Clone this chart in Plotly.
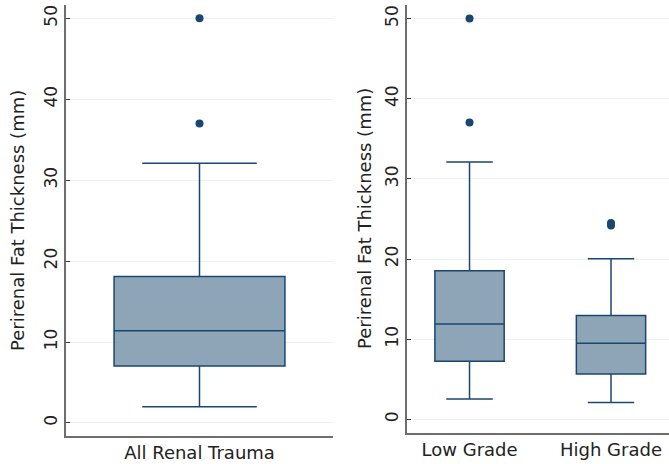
import plotly.graph_objects as go

# Left panel: all renal trauma
all_label = ["All Renal Trauma"]
all_q1 = [7.05]
all_median = [11.4]
all_q3 = [18.1]
all_lower = [2.0]
all_upper = [32.1]
all_outliers = [37.0, 50.0]

# Right panel: by grade
grade_labels = ["Low Grade", "High Grade"]
grade_q1 = [7.25, 5.65]
grade_median = [11.9, 9.5]
grade_q3 = [18.55, 12.95]
grade_lower = [2.55, 2.1]
grade_upper = [32.1, 20.05]
low_outliers = [37.05, 50.0]
high_outliers = [24.2, 24.5]

y_ticks = [0, 10, 20, 30, 40, 50]
y_title = "Perirenal Fat Thickness (mm)"

FILL = "#8ea4b7"
LINE = "#1a476f"
GRID = "#eaf2f3"
AXIS = "#6e6e6e"
FONT = "DejaVu Sans"
TXT = "#222"

W, H = 669, 464
fig = go.Figure()

fig.add_trace(go.Box(
    x=[0], q1=all_q1, median=all_median, q3=all_q3,
    lowerfence=all_lower, upperfence=all_upper,
    width=0.64, whiskerwidth=0.67, boxpoints=False,
    fillcolor=FILL, line=dict(color=LINE, width=1.5),
    xaxis="x", yaxis="y", showlegend=False, hoverinfo="skip"))
fig.add_trace(go.Scatter(
    x=[0] * len(all_outliers), y=all_outliers, mode="markers",
    marker=dict(color=LINE, size=8), xaxis="x", yaxis="y", showlegend=False))

grade_pos = list(range(len(grade_labels)))
fig.add_trace(go.Box(
    x=grade_pos, q1=grade_q1, median=grade_median, q3=grade_q3,
    lowerfence=grade_lower, upperfence=grade_upper,
    width=0.49, whiskerwidth=0.67, boxpoints=False,
    fillcolor=FILL, line=dict(color=LINE, width=1.5),
    xaxis="x2", yaxis="y2", showlegend=False, hoverinfo="skip"))
fig.add_trace(go.Scatter(
    x=[grade_pos[0]] * len(low_outliers) + [grade_pos[1]] * len(high_outliers),
    y=low_outliers + high_outliers, mode="markers",
    marker=dict(color=LINE, size=8), xaxis="x2", yaxis="y2", showlegend=False))

yax = dict(
    tickvals=y_ticks, ticktext=[str(t) for t in y_ticks], tickangle=-90,
    showgrid=True, gridcolor=GRID, gridwidth=1, zeroline=False,
    showline=True, linecolor=AXIS, linewidth=1.5,
    ticks="inside", ticklen=4, tickcolor="#333", tickwidth=1,
    tickfont=dict(family=FONT, size=17, color=TXT),
)
xax = dict(
    showgrid=False, zeroline=False, showline=True, linecolor=AXIS, linewidth=1.5,
    ticks="", tickfont=dict(family=FONT, size=18, color=TXT),
)

fig.update_layout(
    width=W, height=H,
    margin=dict(l=0, r=0, t=0, b=0),
    paper_bgcolor="white", plot_bgcolor="white",
    xaxis=dict(xax, domain=[66 / W, 333 / W], range=[-0.5, 0.5],
               tickvals=[0], ticktext=all_label, anchor="y"),
    yaxis=dict(yax, domain=[1 - 436 / H, 1 - 5 / H], range=[-1.61, 51.65], anchor="x"),
    xaxis2=dict(xax, domain=[407 / W, 1.0], range=[-0.442, 1.41],
                tickvals=grade_pos, ticktext=grade_labels, anchor="y2"),
    yaxis2=dict(yax, domain=[1 - 432.7 / H, 1 - 5 / H], range=[-1.67, 51.7], anchor="x2"),
    annotations=[
        dict(text=y_title, textangle=-90, x=18 / W, y=1 - 221 / H, xref="paper", yref="paper",
             xanchor="center", yanchor="middle",
             showarrow=False, font=dict(family=FONT, size=18, color=TXT)),
        dict(text=y_title, textangle=-90, x=364 / W, y=1 - 219 / H, xref="paper", yref="paper",
             xanchor="center", yanchor="middle",
             showarrow=False, font=dict(family=FONT, size=18, color=TXT)),
    ],
)

fig.write_html("out.html", config={"displayModeBar": False},
               post_script="document.body.style.margin='0';")
